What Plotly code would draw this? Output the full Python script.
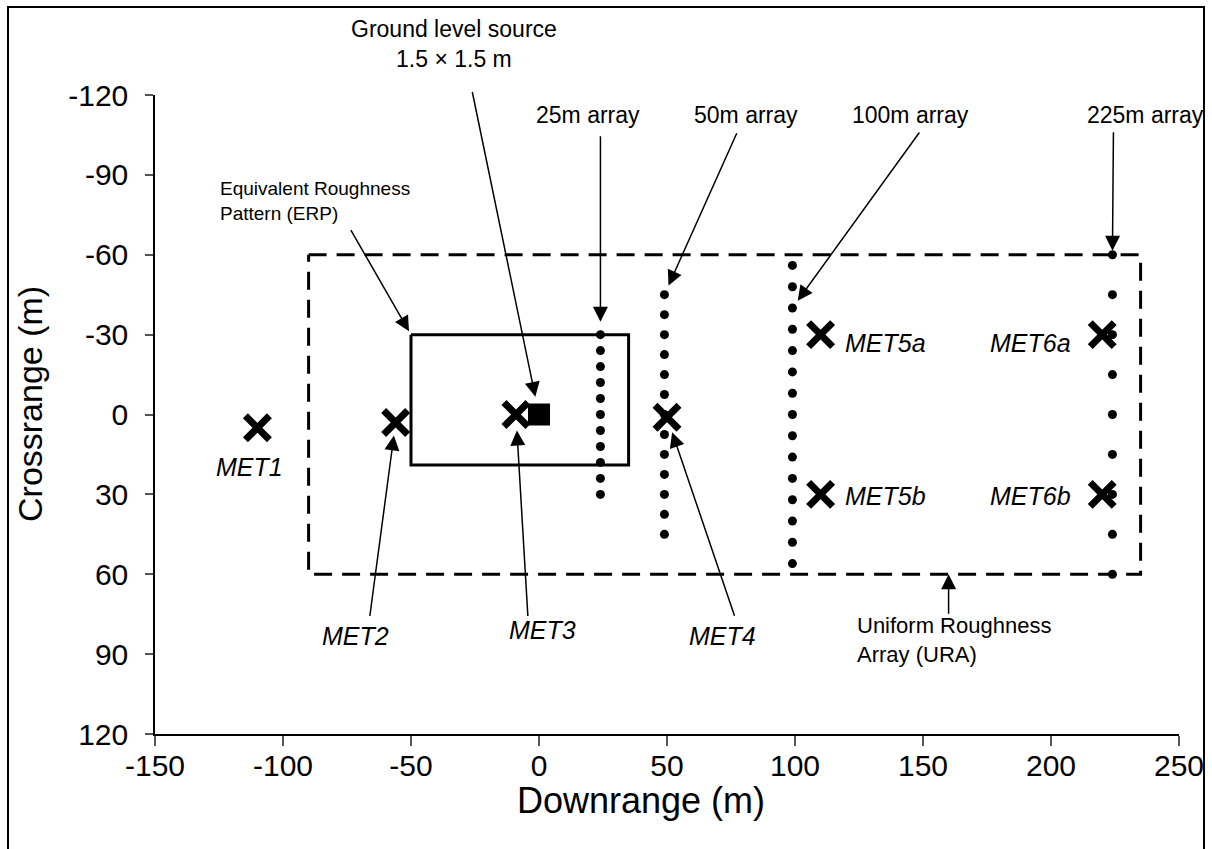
import plotly.graph_objects as go

# ---------------- data ----------------
x_ticks = [-150, -100, -50, 0, 50, 100, 150, 200, 250]
y_ticks = [-120, -90, -60, -30, 0, 30, 60, 90, 120]

met_names = ["MET1", "MET2", "MET3", "MET4", "MET5a", "MET5b", "MET6a", "MET6b"]
met_x = [-110, -56, -9, 50, 110, 110, 220, 220]
met_y = [5, 3, 0, 1, -30, 30, -30, 30]

source_x = [0]
source_y = [0]

array25_x = [24] * 11
array25_y = [-30, -24, -18, -12, -6, 0, 6, 12, 18, 24, 30]
array50_x = [49] * 13
array50_y = [-45, -37.5, -30, -22.5, -15, -7.5, 0, 7.5, 15, 22.5, 30, 37.5, 45]
array100_x = [99] * 15
array100_y = [-56, -48, -40, -32, -24, -16, -8, 0, 8, 16, 24, 32, 40, 48, 56]
array225_x = [224] * 9
array225_y = [-60, -45, -30, -15, 0, 15, 30, 45, 60]

ura_x = [-90, 235]
ura_y = [-60, 60]
erp_x = [-50, 35]
erp_y = [-30, 19]

# ---------------- layout geometry ----------------
W, H = 1212, 849
L, R, T, B = 155, 33, 95, 115
PW, PH = W - L - R, H - T - B


def px(xp, yp):
    return (xp - L) / PW, (H - B - yp) / PH


FONT = "Liberation Sans, Arial, sans-serif"

fig = go.Figure()


def rect(xs, ys, dash):
    fig.add_trace(go.Scatter(
        x=[xs[0], xs[1], xs[1], xs[0], xs[0]],
        y=[ys[0], ys[0], ys[1], ys[1], ys[0]],
        mode="lines", line=dict(color="black", width=3, dash=dash),
        hoverinfo="skip", showlegend=False))


rect(ura_x, ura_y, "18px,10px")
rect(erp_x, erp_y, "solid")

for xs, ys in [(array25_x, array25_y), (array50_x, array50_y),
               (array100_x, array100_y), (array225_x, array225_y)]:
    fig.add_trace(go.Scatter(x=xs, y=ys, mode="markers",
                             marker=dict(symbol="circle", size=9, color="black"),
                             showlegend=False))

fig.add_trace(go.Scatter(x=source_x, y=source_y, mode="markers",
                         marker=dict(symbol="square", size=22, color="black"),
                         showlegend=False))

fig.add_trace(go.Scatter(x=met_x, y=met_y, mode="markers",
                         marker=dict(symbol="x-thin", size=24,
                                     line=dict(color="black", width=7)),
                         showlegend=False))

ann = []

# arrows: head at data point, tail as pixel offset
arrows = [
    # (x, y, ax, ay, standoff)
    (0, 0, -67, -324, 18),
    (24, -30, 0, -200, 13),
    (49, -45, 73, -163, 10),
    (99, -40, 128, -177, 9),
    (224, -60, 1, -124, 4),
    (-50, -30, -61, -106, 4),
    (-56, 3, -26, 195, 13),
    (-9, 0, 12, 203, 16),
    (50, 1, 68, 200, 16),
    (160, 60, 0, 41, 0),
]
for (hx, hy, ax, ay, so) in arrows:
    ann.append(dict(x=hx, y=hy, xref="x", yref="y", ax=ax, ay=ay,
                    axref="pixel", ayref="pixel", text="", showarrow=True,
                    arrowhead=2, arrowsize=2.0, arrowwidth=1.5,
                    arrowcolor="black", standoff=so))


def text(t, xp, yp, xanchor="center", size=23, italic=False, align="center", angle=0):
    x, y = px(xp, yp)
    ann.append(dict(x=x, y=y, xref="paper", yref="paper", text=t,
                    showarrow=False, xanchor=xanchor, yanchor="middle",
                    align=align, textangle=angle,
                    font=dict(family=FONT, size=size, color="black",
                              style="italic" if italic else "normal")))


text("Ground level source<br>1.5 × 1.5 m", 454, 44)
text("Equivalent Roughness<br>Pattern (ERP)", 218, 201, xanchor="left", size=19, align="left")
text("25m array", 588, 115)
text("50m array", 746, 115)
text("100m array", 910, 115)
text("225m array", 1145, 115)
text("Uniform Roughness<br>Array (URA)", 855, 640, xanchor="left", size=22, align="left")
text("MET2", 355, 636, size=25, italic=True)
text("MET3", 542, 630, size=25, italic=True)
text("MET4", 722, 636, size=25, italic=True)

# axis titles
text("Downrange (m)", 641, 800, size=36)
text("Crossrange (m)", 30, 404, size=34, angle=-90)

# labels tied to markers
near = {"MET1": ("center", -8, -39), "MET5a": ("left", 22, -8), "MET5b": ("left", 22, -2),
        "MET6a": ("right", -29, -8), "MET6b": ("right", -29, -2)}
for n, xv, yv in zip(met_names, met_x, met_y):
    if n in near:
        xa, xs_, ys_ = near[n]
        ann.append(dict(x=xv, y=yv, xref="x", yref="y", text=n, showarrow=False,
                        xanchor=xa, yanchor="middle", xshift=xs_, yshift=ys_,
                        font=dict(family=FONT, size=25, color="black", style="italic")))

# outer frame
x0, y0 = px(8, 7)
x1, y1 = px(1204, 870)
shapes = [dict(type="rect", xref="paper", yref="paper", x0=x0, y0=y0, x1=x1, y1=y1,
               line=dict(color="black", width=2), layer="above")]

fig.update_layout(
    width=W, height=H,
    margin=dict(l=L, r=R, t=T, b=B, autoexpand=False),
    paper_bgcolor="white", plot_bgcolor="white",
    showlegend=False,
    annotations=ann, shapes=shapes,
    font=dict(family=FONT, color="black"),
    xaxis=dict(range=[-150, 250], tickvals=x_ticks, ticktext=[str(v) for v in x_ticks],
               showgrid=False, zeroline=False, showline=True, linecolor="black",
               linewidth=1.5, ticks="outside", ticklen=10, tickcolor="#555",
               tickwidth=1.5, tickfont=dict(size=30), ticklabelstandoff=-6),
    yaxis=dict(range=[120, -120], tickvals=y_ticks, ticktext=[str(v) for v in y_ticks],
               showgrid=False, zeroline=False, showline=True, linecolor="black",
               linewidth=1.5, ticks="outside", ticklen=8, tickcolor="#555",
               tickwidth=1.5, tickfont=dict(size=30), ticklabelstandoff=11),
)

fig.write_html("out.html")
